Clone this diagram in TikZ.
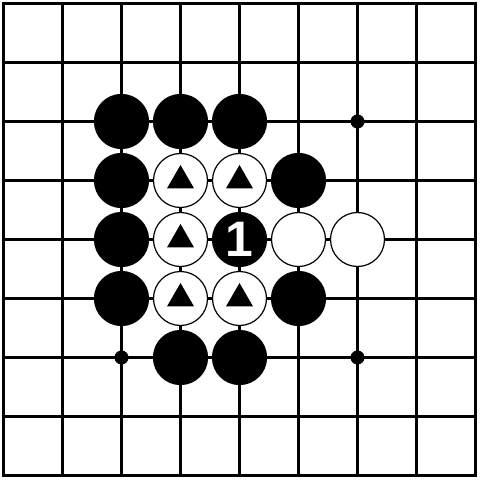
\documentclass[tikz,border=0pt]{standalone}
\usepackage{fontspec}
\usepackage{tikz}
\usetikzlibrary{shapes.geometric}
\newfontfamily\stonefont{Liberation Sans}

\begin{document}
\begin{tikzpicture}[x=59bp,y=-59bp]
    \tikzstyle{every node}+=[inner sep=0pt]
    \tikzstyle{blackstone}=[circle,draw=black,fill=black,line width=1.2bp,minimum size=54bp]
    \tikzstyle{whitestone}=[circle,draw=black,fill=white,line width=1.2bp,minimum size=54bp]
    \tikzstyle{marker}=[regular polygon,regular polygon sides=3,fill=black,minimum size=31bp]
    \tikzstyle{hoshi}=[circle,fill=black,minimum size=14bp]
    \useasboundingbox (-0.0593,-0.0593) rectangle (8.0763,8.0763);
    \fill [white] (-0.0593,-0.0593) rectangle (8.0763,8.0763);
    % board
    \foreach \i in {1,...,7} {
        \draw [black,line width=2.2bp] (\i,0) -- (\i,8);
        \draw [black,line width=2.2bp] (0,\i) -- (8,\i);
    }
    \draw [black,line width=3.6bp] (0,0) rectangle (8,8);
    \node [hoshi] (h1) at (2,6) {};
    \node [hoshi] (h2) at (6,2) {};
    \node [hoshi] (h3) at (6,6) {};
    % black stones
    \node [blackstone] (b1) at (2,2) {};
    \node [blackstone] (b2) at (3,2) {};
    \node [blackstone] (b3) at (4,2) {};
    \node [blackstone] (b4) at (2,3) {};
    \node [blackstone] (b5) at (5,3) {};
    \node [blackstone] (b6) at (2,4) {};
    \node [blackstone] (b7) at (2,5) {};
    \node [blackstone] (b8) at (5,5) {};
    \node [blackstone] (b9) at (3,6) {};
    \node [blackstone] (b10) at (4,6) {};
    \node [blackstone,text=white,font=\stonefont\bfseries\fontsize{50}{50}\selectfont] (m1) at (4,4) {1};
    % white stones
    \node [whitestone] (w1) at (3,3) {};
    \node [whitestone] (w2) at (4,3) {};
    \node [whitestone] (w3) at (3,4) {};
    \node [whitestone] (w4) at (3,5) {};
    \node [whitestone] (w5) at (4,5) {};
    \node [whitestone] (w6) at (5,4) {};
    \node [whitestone] (w7) at (6,4) {};
    % triangles
    \node [marker] (t1) at (w1) {};
    \node [marker] (t2) at (w2) {};
    \node [marker] (t3) at (w3) {};
    \node [marker] (t4) at (w4) {};
    \node [marker] (t5) at (w5) {};
\end{tikzpicture}
\end{document}
